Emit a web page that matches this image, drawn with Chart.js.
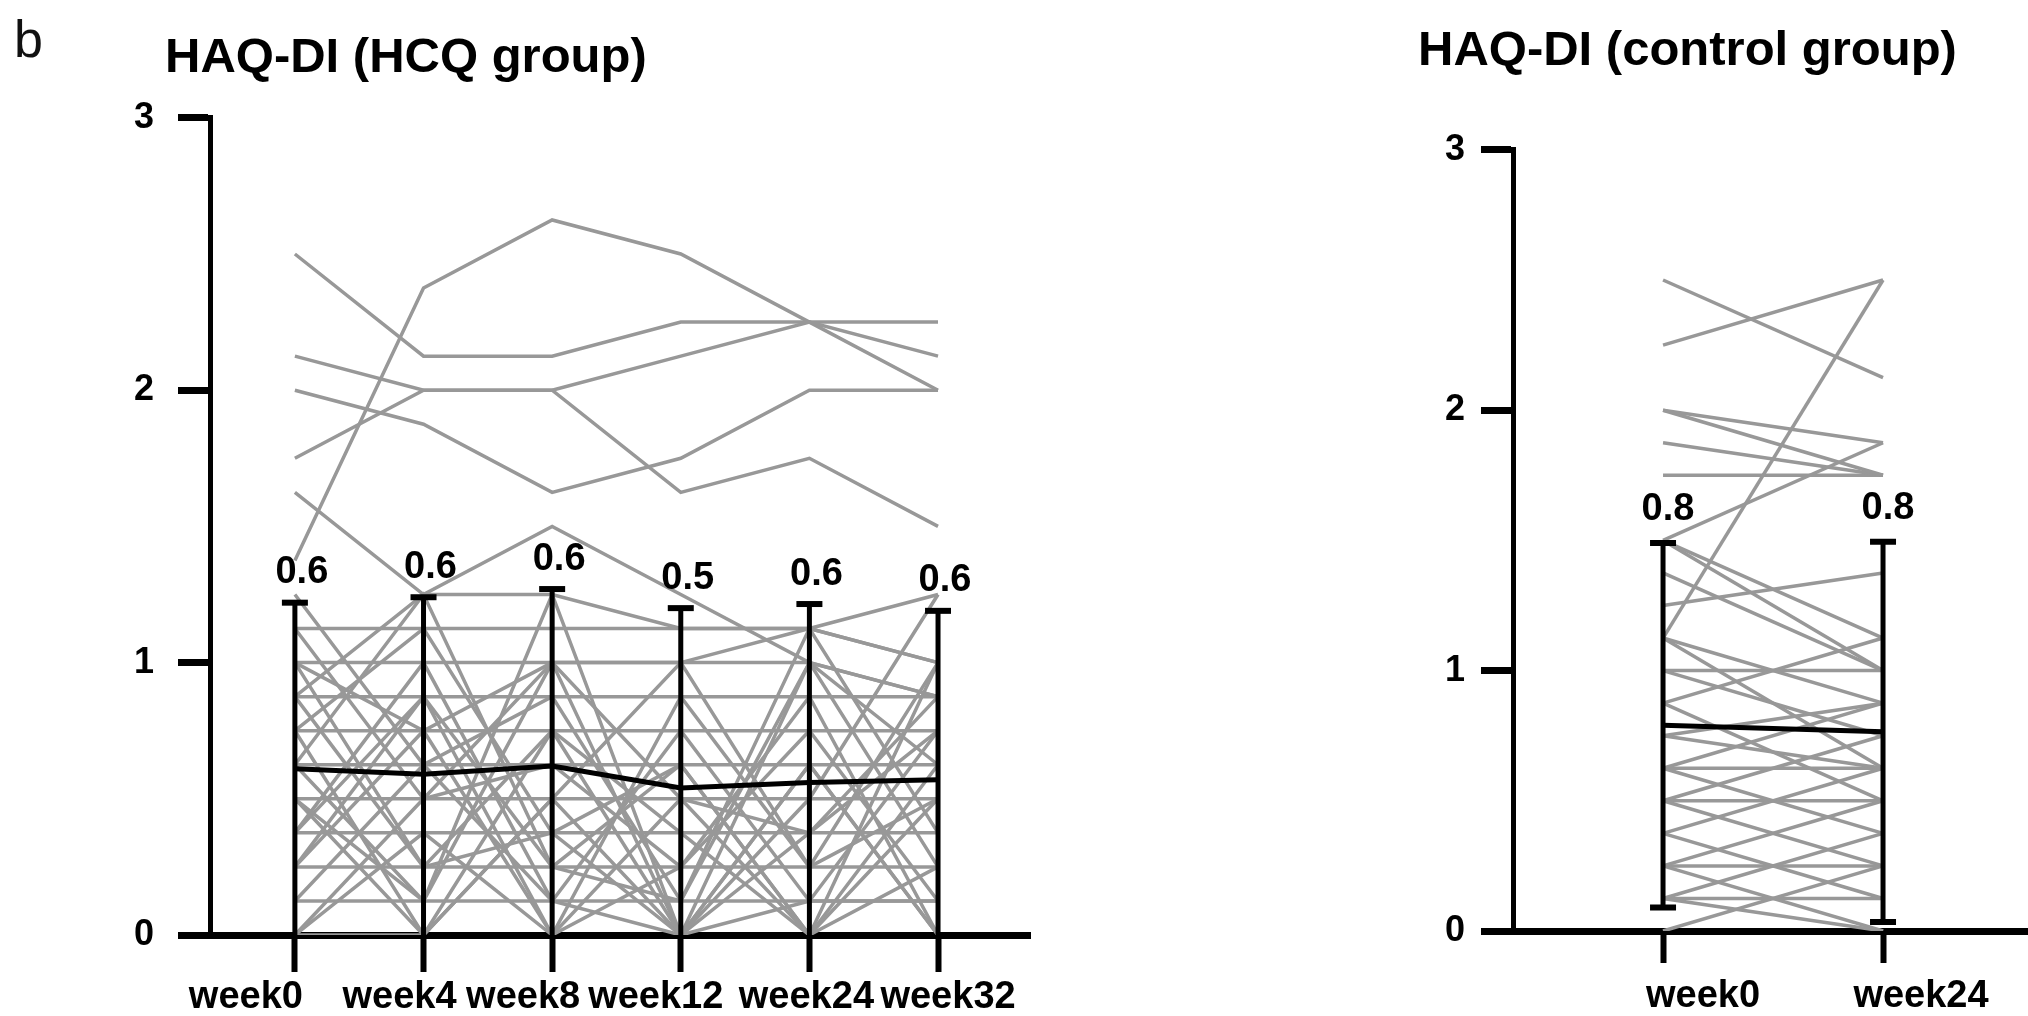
<!DOCTYPE html>
<html>
<head>
<meta charset="utf-8">
<title>HAQ-DI</title>
<script src="https://cdn.jsdelivr.net/npm/chart.js@4.4.0/dist/chart.umd.min.js"></script>
<style>
  html, body { margin: 0; padding: 0; background: #fff; }
  body { width: 2028px; height: 1016px; position: relative; overflow: hidden; font-family: "Liberation Sans", Arial, sans-serif; }
  #panelTag { position: absolute; left: 14px; top: 9px; font-size: 52px; line-height: 60px; color: #111; }
  #hcqBox { position: absolute; left: 0; top: 0; }
  #ctrlBox { position: absolute; left: 1300px; top: 0; }
</style>
</head>
<body>
<div id="panelTag">b</div>
<div id="hcqBox"><canvas id="hcq" width="1040" height="1016"></canvas></div>
<div id="ctrlBox"><canvas id="ctrl" width="728" height="1016"></canvas></div>
<script>
// HCQ group: six visits
const hcqWeeks = ['week0', 'week4', 'week8', 'week12', 'week24', 'week32'];
const hcqMean = [0.61, 0.59, 0.62, 0.54, 0.56, 0.57];
const hcqSd = [0.61, 0.65, 0.65, 0.66, 0.655, 0.62];
const hcqPatients = [
    [2.5, 2.125, 2.125, 2.25, 2.25, 2.25],
    [2.125, 2.0, 2.0, 2.125, 2.25, 2.125],
    [1.375, 2.375, 2.625, 2.5, 2.25, 2.0],
    [2.0, 1.875, 1.625, 1.75, 2.0, 2.0],
    [1.75, 2.0, 2.0, 1.625, 1.75, 1.5],
    [1.625, 1.25, 1.25, 1.125, 1.125, 1.0],
    [0.875, 1.25, 1.5, 1.25, 1.0, 0.875],
    [1.125, 1.125, 1.125, 1.125, 1.125, 1.0],
    [1.0, 1.0, 1.0, 1.0, 1.125, 1.25],
    [1.0, 0.75, 1.0, 1.0, 1.0, 0.875],
    [0.875, 0.875, 0.875, 0.875, 0.875, 0.875],
    [0.75, 0.75, 0.75, 0.75, 0.75, 0.75],
    [0.625, 0.625, 0.625, 0.625, 0.625, 0.625],
    [0.5, 0.5, 0.5, 0.5, 0.5, 0.5],
    [0.375, 0.375, 0.375, 0.375, 0.375, 0.375],
    [0.25, 0.25, 0.25, 0.25, 0.25, 0.25],
    [0.125, 0.125, 0.125, 0.125, 0.125, 0.125],
    [0.0, 0.5, 1.0, 0.5, 0.0, 0.625],
    [1.0, 0.25, 0.75, 0.0, 1.0, 0.25],
    [0.75, 0.0, 0.5, 1.0, 0.25, 1.0],
    [0.625, 1.25, 0.25, 0.625, 0.0, 0.5],
    [0.25, 0.875, 0.0, 0.25, 0.75, 0.125],
    [0.5, 0.125, 1.25, 0.0, 0.5, 1.25],
    [0.375, 1.0, 0.125, 0.75, 0.125, 0.75],
    [0.875, 0.25, 0.375, 0.0, 0.625, 0.0],
    [0.125, 0.625, 0.875, 0.125, 1.125, 0.375],
    [0.0, 0.375, 0.0, 0.5, 0.375, 0.875],
    [1.125, 0.5, 0.625, 0.25, 0.875, 0.0],
    [0.5, 0.0, 0.75, 0.375, 0.0, 0.25],
    [0.25, 0.75, 0.0, 0.875, 0.25, 0.5],
    [0.625, 0.125, 1.0, 0.0, 0.625, 0.0],
    [0.375, 0.875, 0.25, 0.125, 1.0, 0.625],
    [0.0, 0.0, 0.5, 0.0, 0.125, 0.125],
    [0.75, 1.125, 0.375, 0.625, 0.0, 1.0],
    [1.25, 0.625, 0.125, 0.0, 0.375, 0.75]
];

// control group: baseline and week 24
const ctrlWeeks = ['week0', 'week24'];
const ctrlMean = [0.79, 0.765];
const ctrlSd = [0.70, 0.73];
const ctrlPatients = [
    [2.5, 2.125], [2.25, 2.5], [1.125, 2.5], [2.0, 1.875], [2.0, 1.75],
    [1.875, 1.75], [1.75, 1.75], [1.5, 1.875], [1.5, 1.125], [1.5, 1.0],
    [1.375, 1.0], [1.25, 1.375], [1.125, 0.875], [1.0, 1.0], [1.0, 0.75],
    [0.875, 1.125], [0.875, 0.5], [0.75, 0.875], [0.75, 0.625], [0.625, 0.625],
    [0.625, 0.375], [0.5, 0.75], [0.5, 0.25], [0.375, 0.625], [0.375, 0.125],
    [0.25, 0.5], [0.25, 0.25], [0.125, 0.375], [0.125, 0.125], [0.125, 0.0],
    [0.0, 0.25], [0.25, 0.0], [0.625, 0.875], [0.5, 0.5], [1.125, 0.625]
];

const yTicks = [0, 1, 2, 3];

const FONT = '"Liberation Sans", Arial, Helvetica, sans-serif';
const GREY = '#989898';

// mean +/- SD bars with the mean printed above each bar, week labels
// under the x ticks (each nudged sideways), and the title moved to opts.titleX
const errorBars = {
    id: 'errorBars',
    afterLayout(chart, args, opts) {
        if (chart.titleBlock) chart.titleBlock.left = opts.titleX;
    },
    afterDatasetsDraw(chart, args, opts) {
        const { ctx, scales: { x, y } } = chart;
        ctx.save();
        ctx.strokeStyle = '#000';
        ctx.fillStyle = '#000';
        ctx.font = 'bold 38px ' + FONT;
        ctx.textAlign = 'center';
        ctx.textBaseline = 'middle';
        opts.mean.forEach((m, i) => {
            const px = x.getPixelForValue(i);
            const hi = m + opts.sd[i];
            const lo = Math.max(m - opts.sd[i], 0);
            const top = y.getPixelForValue(hi);
            const bottom = y.getPixelForValue(lo);
            ctx.lineWidth = 5;
            ctx.beginPath();
            ctx.moveTo(px, bottom);
            ctx.lineTo(px, top);
            ctx.stroke();
            ctx.lineWidth = 6;
            ctx.beginPath();
            ctx.moveTo(px - 13, top);
            ctx.lineTo(px + 13, top);
            if (lo > 0) {
                ctx.moveTo(px - 13, bottom);
                ctx.lineTo(px + 13, bottom);
            }
            ctx.stroke();
            ctx.fillText(m.toFixed(1), px + opts.labelDx, top - opts.labelDy);
        });
        ctx.restore();
    },
    afterDraw(chart, args, opts) {
        const { ctx, scales: { x } } = chart;
        ctx.save();
        ctx.fillStyle = '#000';
        ctx.font = 'bold 38px ' + FONT;
        ctx.textAlign = 'center';
        ctx.textBaseline = 'alphabetic';
        opts.weeks.forEach((w, i) => {
            ctx.fillText(w, x.getPixelForValue(i) + opts.weekShift[i], x.top + opts.weekBaseline);
        });
        ctx.restore();
    }
};

function toPoints(values) {
    return values.map((v, i) => ({ x: i, y: v }));
}

function buildDatasets(mean, patients) {
    const sets = [{
        data: toPoints(mean),
        borderColor: '#000',
        borderWidth: 5
    }];
    patients.forEach(p => sets.push({
        data: toPoints(p),
        borderColor: GREY,
        borderWidth: 3.5
    }));
    return sets;
}

function panelOptions(p) {
    return {
        responsive: false,
        animation: false,
        layout: { padding: { left: p.padLeft, right: p.padRight, top: 0, bottom: 0 } },
        elements: { point: { radius: 0 }, line: { tension: 0, borderCapStyle: 'butt' } },
        plugins: {
            legend: { display: false },
            tooltip: { enabled: false },
            title: {
                display: true,
                text: p.title,
                align: 'start',
                color: '#000',
                font: { family: FONT, size: 49, weight: 'bold' },
                padding: { top: p.titleTop, bottom: p.titleBottom }
            },
            errorBars: {
                mean: p.mean, sd: p.sd, labelDx: p.labelDx, labelDy: p.labelDy, titleX: p.titleX,
                weeks: p.weeks, weekShift: p.weekShift, weekBaseline: p.weekBaseline
            }
        },
        scales: {
            x: {
                type: 'linear',
                min: p.xMin,
                max: p.xMax,
                afterBuildTicks: axis => { axis.ticks = p.weeks.map((_, i) => ({ value: i })); },
                afterFit: axis => { axis.height = p.xHeight; },
                grid: { drawOnChartArea: false, tickLength: p.xTickLen, tickWidth: 6, tickColor: '#000' },
                border: { display: true, width: 7, color: '#000' },
                ticks: { display: false }
            },
            y: {
                min: 0,
                max: 3,
                afterBuildTicks: axis => { axis.ticks = yTicks.map(v => ({ value: v })); },
                afterFit: axis => { axis.width = p.yWidth; },
                grid: { drawOnChartArea: false, tickLength: 32, tickWidth: 7, tickColor: '#000' },
                border: { display: true, width: 5, color: '#000' },
                ticks: {
                    color: '#000',
                    font: { family: FONT, size: 36, weight: 'bold' },
                    padding: p.yLabelPad
                }
            }
        }
    };
}

new Chart(document.getElementById('hcq'), {
    type: 'line',
    data: { datasets: buildDatasets(hcqMean, hcqPatients) },
    options: panelOptions({
        title: 'HAQ-DI (HCQ group)', titleX: 165,
        weeks: hcqWeeks, mean: hcqMean, sd: hcqSd,
        padLeft: 110, padRight: 10, yWidth: 100, yLabelPad: 24,
        titleTop: 29, titleBottom: 30,
        xMin: -0.66, xMax: 5.715, xHeight: 81, xTickLen: 37,
        weekShift: [-49, -24, -29, -25, -3, 10], weekBaseline: 73,
        labelDx: 7, labelDy: 30
    }),
    plugins: [errorBars]
});

new Chart(document.getElementById('ctrl'), {
    type: 'line',
    data: { datasets: buildDatasets(ctrlMean, ctrlPatients) },
    options: panelOptions({
        title: 'HAQ-DI (control group)', titleX: 118,
        weeks: ctrlWeeks, mean: ctrlMean, sd: ctrlSd,
        padLeft: 118, padRight: 0, yWidth: 95, yLabelPad: 16,
        titleTop: 22, titleBottom: 69,
        xMin: -0.682, xMax: 1.659, xHeight: 85, xTickLen: 32,
        weekShift: [40, 38], weekBaseline: 76,
        labelDx: 5, labelDy: 33
    }),
    plugins: [errorBars]
});
</script>
</body>
</html>
